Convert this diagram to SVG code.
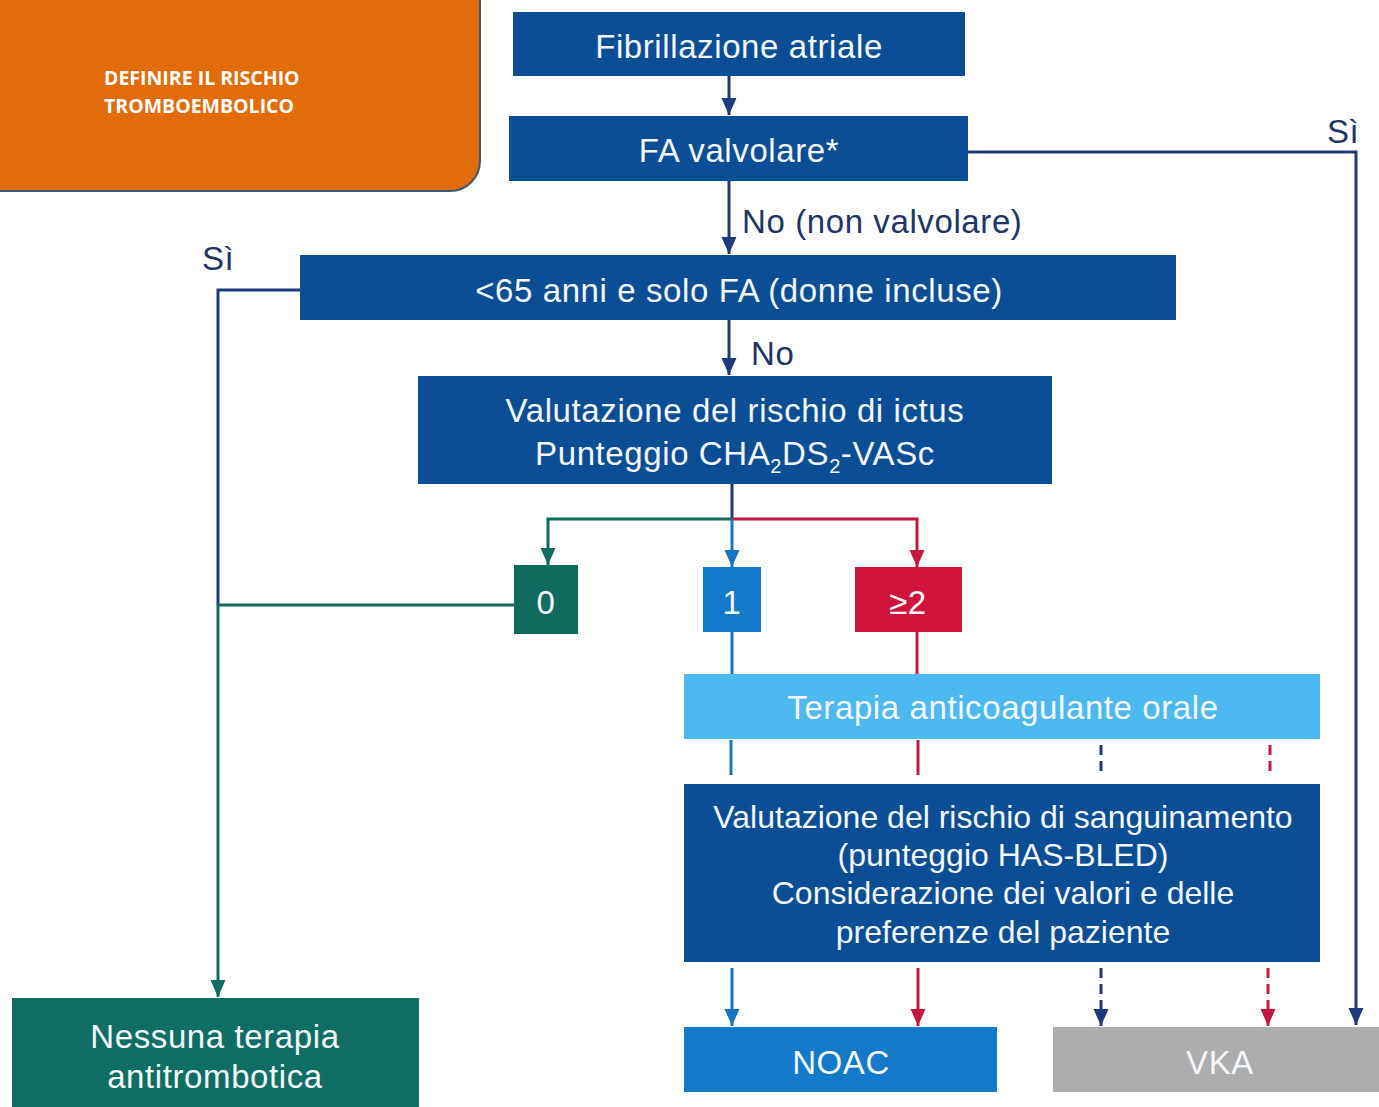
<svg xmlns="http://www.w3.org/2000/svg" width="1379" height="1107" viewBox="0 0 1379 1107">
<style>
.t{font-family:"Liberation Sans",Arial,sans-serif;font-size:33px;letter-spacing:0.6px;fill:#F4F7FB;text-anchor:middle}
.s{font-size:32px;letter-spacing:0}
.l{font-family:"Liberation Sans",Arial,sans-serif;font-size:33px;letter-spacing:0.6px;fill:#1E3566}
.c{fill:none;stroke-width:3}
.nv{stroke:#1E3A7A}.tl{stroke:#106B60}.bl{stroke:#1676C4}.rd{stroke:#C8173F}
.dash{stroke-dasharray:10 6}
</style>
<defs>
<marker id="mN" markerWidth="18" markerHeight="18" refX="17" refY="9" orient="auto" markerUnits="userSpaceOnUse" viewBox="0 0 18 18"><path d="M0,1.5 L17,9 L0,16.5 Z" fill="#1E3A7A"/></marker>
<marker id="mT" markerWidth="18" markerHeight="18" refX="17" refY="9" orient="auto" markerUnits="userSpaceOnUse" viewBox="0 0 18 18"><path d="M0,1.5 L17,9 L0,16.5 Z" fill="#106B60"/></marker>
<marker id="mB" markerWidth="18" markerHeight="18" refX="17" refY="9" orient="auto" markerUnits="userSpaceOnUse" viewBox="0 0 18 18"><path d="M0,1.5 L17,9 L0,16.5 Z" fill="#1676C4"/></marker>
<marker id="mR" markerWidth="18" markerHeight="18" refX="17" refY="9" orient="auto" markerUnits="userSpaceOnUse" viewBox="0 0 18 18"><path d="M0,1.5 L17,9 L0,16.5 Z" fill="#C8173F"/></marker>
</defs>
<rect width="1379" height="1107" fill="#FFFFFF"/>

<g id="header">
<rect x="-40" y="-40" width="520" height="231" rx="30" fill="#E36C0A" stroke="#3B5878" stroke-width="2"/>
<text x="104" y="85" font-family="'Open Sans','Liberation Sans',sans-serif" font-weight="bold" font-size="19.5" fill="#FFFFFF">DEFINIRE IL RISCHIO</text>
<text x="104" y="113" font-family="'Open Sans','Liberation Sans',sans-serif" font-weight="bold" font-size="19.5" fill="#FFFFFF">TROMBOEMBOLICO</text>
</g>

<g id="connectors">
<path class="c nv" d="M729,76 V115" marker-end="url(#mN)"/>
<path class="c nv" d="M968,152 H1356 V1025" marker-end="url(#mN)"/>
<path class="c nv" d="M729,181 V254" marker-end="url(#mN)"/>
<path class="c nv" d="M300,290 H218 V605"/>
<path class="c tl" d="M514,605 H218 V997" marker-end="url(#mT)"/>
<path class="c nv" d="M729,320 V375" marker-end="url(#mN)"/>
<path class="c nv" d="M732,484 V519"/>
<path class="c tl" d="M732,519 H548 V565" marker-end="url(#mT)"/>
<path class="c rd" d="M732,519 H917 V567" marker-end="url(#mR)"/>
<path class="c bl" d="M732,519 V567" marker-end="url(#mB)"/>
<path class="c bl" d="M732,632 V674"/>
<path class="c rd" d="M917,632 V674"/>
<path class="c bl" d="M731,740 V775"/>
<path class="c rd" d="M918,740 V775"/>
<path class="c nv dash" d="M1101,745 V777"/>
<path class="c rd dash" d="M1270,745 V777"/>
<path class="c bl" d="M732,968 V1026" marker-end="url(#mB)"/>
<path class="c rd" d="M918,968 V1026" marker-end="url(#mR)"/>
<path class="c nv dash" d="M1101,968 V1026" marker-end="url(#mN)"/>
<path class="c rd dash" d="M1268,968 V1026" marker-end="url(#mR)"/>
<text class="l" x="1327" y="143">Sì</text>
<text class="l" x="742" y="233">No (non valvolare)</text>
<text class="l" x="202" y="270">Sì</text>
<text class="l" x="751" y="365">No</text>
</g>

<g id="n1"><rect x="513" y="12" width="452" height="64" fill="#0B4E95"/><text class="t" x="739" y="58">Fibrillazione atriale</text></g>
<g id="n2"><rect x="509" y="116" width="459" height="65" fill="#0B4E95"/><text class="t" x="739" y="162">FA valvolare*</text></g>
<g id="n3"><rect x="300" y="255" width="876" height="65" fill="#0B4E95"/><text class="t" x="739" y="302">&lt;65 anni e solo FA (donne incluse)</text></g>
<g id="n4"><rect x="418" y="376" width="634" height="108" fill="#0B4E95"/><text class="t" x="735" y="422">Valutazione del rischio di ictus</text><text class="t" x="735" y="465">Punteggio CHA<tspan font-size="20" dy="8">2</tspan><tspan dy="-8">DS</tspan><tspan font-size="20" dy="8">2</tspan><tspan dy="-8">-VASc</tspan></text></g>
<g id="n5"><rect x="514" y="565" width="64" height="69" fill="#0F6B5E"/><text class="t" x="546" y="614">0</text></g>
<g id="n6"><rect x="703" y="567" width="58" height="65" fill="#1479C9"/><text class="t" x="732" y="614">1</text></g>
<g id="n7"><rect x="855" y="567" width="107" height="65" fill="#D0143C"/><text class="t" x="908" y="614">≥2</text></g>
<g id="n8"><rect x="684" y="674" width="636" height="65" fill="#4DB9F1"/><text class="t" x="1003" y="719">Terapia anticoagulante orale</text></g>
<g id="n9"><rect x="684" y="784" width="636" height="178" fill="#0B4E95"/><text class="t s" x="1003" y="828">Valutazione del rischio di sanguinamento</text><text class="t s" x="1003" y="866">(punteggio HAS-BLED)</text><text class="t s" x="1003" y="904">Considerazione dei valori e delle</text><text class="t s" x="1003" y="943">preferenze del paziente</text></g>
<g id="n10"><rect x="684" y="1027" width="313" height="65" fill="#1479C9"/><text class="t" x="841" y="1074">NOAC</text></g>
<g id="n11"><rect x="1053" y="1027" width="340" height="65" fill="#ADADAD"/><text class="t" x="1220" y="1074">VKA</text></g>
<g id="n12"><rect x="12" y="998" width="407" height="120" fill="#0F6E63"/><text class="t" x="215" y="1048">Nessuna terapia</text><text class="t" x="215" y="1088">antitrombotica</text></g>
</svg>
